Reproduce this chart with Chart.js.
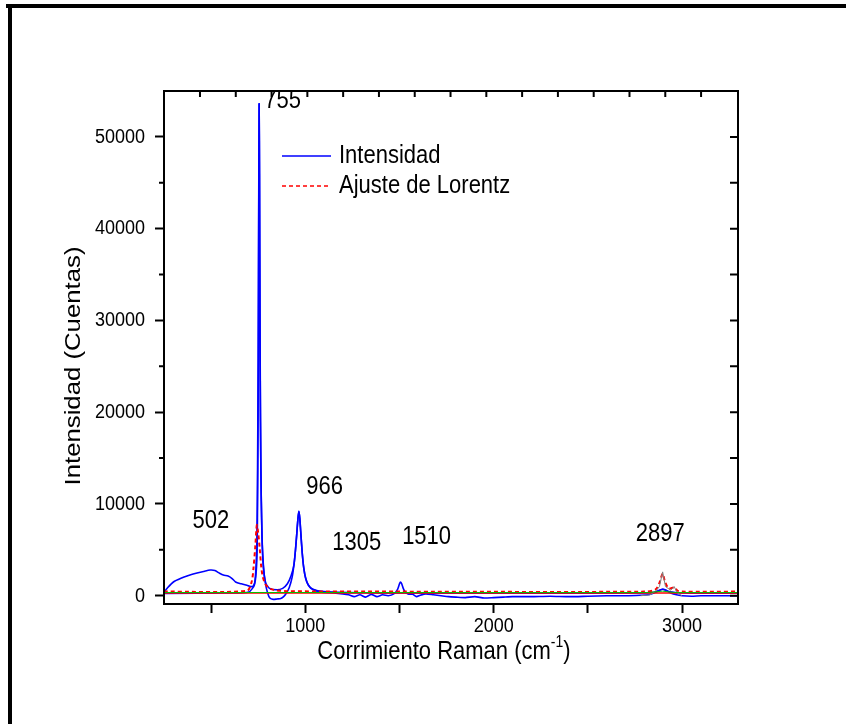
<!DOCTYPE html>
<html><head><meta charset="utf-8">
<script src="https://cdn.jsdelivr.net/npm/chart.js@4/dist/chart.umd.min.js"></script>
<style>html,body{margin:0;padding:0;background:#fff}#wrap{width:846px;height:724px;position:relative}</style>
</head><body><div id="wrap"><canvas id="c" width="846" height="724"></canvas></div>
<script>
// ---- Data ----
const rawShift  = [250,270,300,340,380,420,460,495,520,545,565,590,610,630,660,690,710,725,735,742,745,748,751,753,755,757,759,762,766,771,778,788,800,812,830,850,870,885,900,915,930,940,948,955,961,966,971,977,984,992,1002,1015,1030,1050,1070,1100,1150,1200,1230,1260,1290,1320,1350,1380,1410,1440,1470,1490,1500,1505,1512,1520,1530,1545,1570,1590,1610,1640,1680,1720,1760,1800,1850,1900,1950,2000,2050,2100,2200,2300,2400,2500,2600,2700,2780,2820,2850,2880,2897,2915,2940,2970,3000,3050,3100,3200,3300];
const rawCounts = [400,900,1500,1900,2200,2450,2650,2800,2750,2450,2250,2150,1900,1500,1300,1150,1000,1100,1700,3500,6000,14000,26000,42000,53600,46000,32000,19000,11000,6000,3200,1400,300,-250,-400,-350,-300,-100,300,900,2000,3400,5000,6800,8400,9200,8400,6600,4600,3000,1900,1200,800,600,450,350,300,200,100,-100,100,-150,150,-100,100,0,200,700,1300,1500,1300,800,400,200,150,-100,50,200,100,0,-100,-150,-200,-100,-250,-200,-150,-100,-100,-50,-100,-50,0,0,50,100,300,600,700,600,300,100,0,-50,0,0,0];

const sumShift  = [250,600,700,730,742,746,750,753,755,757,760,764,770,778,790,810,850,880,905,925,940,948,955,961,966,971,977,984,992,1002,1015,1040,1100,1300,1500,2000,2800,2860,2897,2930,3000,3300];
const sumCounts = [250,300,400,1200,5000,12000,26000,44000,53600,46000,28000,14000,6500,3000,1400,800,650,800,1300,2200,3400,5000,6800,8400,9200,8400,6600,4600,3000,1900,1200,700,450,320,300,280,300,400,700,450,300,280];

const fitShift  = [250,690,715,725,735,743,750,758,766,775,790,805,830,900,1500,2800,2860,2880,2897,2910,2930,2960,2975,3000,3300];
const fitCounts = [450,550,1500,3000,5500,7700,6800,5200,3200,2000,1200,900,650,500,450,450,700,1400,2400,1500,800,900,550,450,450];

const baseShift  = [250,3300];
const baseCounts = [300,300];

const greenShift  = [250,2820,2897,2960,3300];
const greenCounts = [350,350,500,350,350];

const greyShift  = [2780,2830,2860,2880,2897,2912,2940,2958,2975,3000];
const greyCounts = [0,100,500,1000,2600,1000,600,1000,300,0];

const xTickValues = [500,1000,1500,2000,2500,3000];
const xLabelled   = [1000,2000,3000];
const yTickValues = [0,10000,20000,30000,40000,50000];
const yMinorValues = [5000,15000,25000,35000,45000];
const topTickValues = [441,631,821,1011,1201,1391,1581,1771,1961,2151,2341,2531,2721,2911,3101];
const rightTickValues = [0,5000,10000,15000,20000,25000,30000,35000,40000,45000,50000];

const peakLabels = [
  {text:'502',  x:499,  y:8200},
  {text:'755',  x:880,  y:53900},
  {text:'966',  x:1103, y:11900},
  {text:'1305', x:1273, y:5800},
  {text:'1510', x:1644, y:6400},
  {text:'2897', x:2884, y:6700}
];

const seriesNames = {raw:'Intensidad', fit:'Ajuste de Lorentz'};
const legendOrder = [seriesNames.raw, seriesNames.fit];
const yTitle = 'Intensidad (Cuentas)';
const xTitleMain = 'Corrimiento Raman (cm';
const xTitleSup = '-1';
const xTitleEnd = ')';

const pts = (xs, ys) => xs.map((x,i)=>({x:x, y:ys[i]}));
const FONT = '"Liberation Sans", Arial, sans-serif';
const STRETCH = 1.17;

function txt(ctx, s, x, y, size, align){
  ctx.save();
  ctx.font = size + 'px ' + FONT;
  ctx.textAlign = align;
  ctx.textBaseline = 'middle';
  ctx.translate(x, y);
  ctx.scale(1, STRETCH);
  ctx.fillText(s, 0, 0);
  ctx.restore();
}

const framePlugin = {
  id:'frame',
  beforeDraw(chart){
    const ctx = chart.ctx;
    ctx.save();
    ctx.fillStyle = '#fff';
    ctx.fillRect(0,0,chart.width,chart.height);
    ctx.fillStyle = '#000';
    ctx.fillRect(6,4,chart.width-6,4);
    ctx.fillRect(8,4,4,chart.height-4);
    ctx.restore();
  },
  afterDraw(chart){
    const ctx = chart.ctx, a = chart.chartArea;
    const xs = chart.scales.x, ys = chart.scales.y;
    ctx.save();
    ctx.strokeStyle = '#000';
    ctx.lineWidth = 2;
    ctx.strokeRect(a.left, a.top, a.right-a.left, a.bottom-a.top);
    ctx.beginPath();
    yMinorValues.forEach(v=>{const p=ys.getPixelForValue(v); ctx.moveTo(a.left-5,p); ctx.lineTo(a.left,p);});
    topTickValues.forEach(v=>{const p=xs.getPixelForValue(v); ctx.moveTo(p,a.top); ctx.lineTo(p,a.top+6);});
    rightTickValues.forEach(v=>{const p=ys.getPixelForValue(v); ctx.moveTo(a.right,p); ctx.lineTo(a.right-8,p);});
    ctx.stroke();

    ctx.fillStyle = '#000';
    // tick labels
    yTickValues.forEach(v=>txt(ctx, String(v), a.left-19, ys.getPixelForValue(v), 18, 'right'));
    xLabelled.forEach(v=>txt(ctx, String(v), xs.getPixelForValue(v), a.bottom+22, 18, 'center'));

    // peak labels
    peakLabels.forEach(l=>txt(ctx, l.text, xs.getPixelForValue(l.x), ys.getPixelForValue(l.y), 22, 'center'));

    // legend
    let ly = 156;
    legendOrder.forEach(name=>{
      const d = chart.data.datasets.find(ds=>ds.label===name);
      ctx.beginPath();
      ctx.strokeStyle = d.borderColor;
      ctx.lineWidth = 1.5;
      ctx.setLineDash(d.borderDash || []);
      ctx.moveTo(282, ly); ctx.lineTo(331, ly);
      ctx.stroke();
      ctx.setLineDash([]);
      ctx.fillStyle = '#000';
      txt(ctx, d.label, 339, ly, 22, 'left');
      ly += 30;
    });

    // y axis title (rotated)
    ctx.save();
    ctx.translate(74, 366);
    ctx.rotate(-Math.PI/2);
    ctx.scale(STRETCH, 1);
    ctx.font = '22px ' + FONT;
    ctx.textAlign = 'center';
    ctx.textBaseline = 'middle';
    ctx.fillText(yTitle, 0, 0);
    ctx.restore();

    // x axis title with superscript
    ctx.font = '22px ' + FONT;
    const w1 = ctx.measureText(xTitleMain).width;
    const w3 = ctx.measureText(xTitleEnd).width;
    ctx.font = '14px ' + FONT;
    const w2 = ctx.measureText(xTitleSup).width;
    const tx = 444 - (w1+w2+w3)/2;
    txt(ctx, xTitleMain, tx, 652, 22, 'left');
    txt(ctx, xTitleSup, tx+w1, 642, 14, 'left');
    txt(ctx, xTitleEnd, tx+w1+w2, 652, 22, 'left');
    ctx.restore();
  }
};

new Chart(document.getElementById('c'), {
  type:'line',
  data:{datasets:[
    {label:'_green', data:pts(greenShift,greenCounts), borderColor:'#00c000', borderWidth:1, pointRadius:0, tension:0},
    {label:'_grey', data:pts(greyShift,greyCounts), borderColor:'#808080', borderWidth:1, pointRadius:0, tension:0},
    {label:'_base', data:pts(baseShift,baseCounts), borderColor:'#ff0000', borderWidth:1.5, pointRadius:0, tension:0},
    {label:seriesNames.fit, data:pts(fitShift,fitCounts), borderColor:'#ff0000', borderWidth:2, borderDash:[4,3], pointRadius:0, tension:0.3},
    {label:'_sum', data:pts(sumShift,sumCounts), borderColor:'#0000ff', borderWidth:1.6, pointRadius:0, tension:0.2},
    {label:seriesNames.raw, data:pts(rawShift,rawCounts), borderColor:'#0000ff', borderWidth:1.6, pointRadius:0, tension:0.2}
  ]},
  options:{
    responsive:false, animation:false, devicePixelRatio:1,
    layout:{padding:{top:91, right:108, left:0, bottom:0}},
    plugins:{legend:{display:false}, tooltip:{enabled:false}},
    scales:{
      x:{type:'linear', min:250, max:3297,
        afterBuildTicks:s=>{s.ticks = xTickValues.map(v=>({value:v}));},
        afterFit:s=>{s.height = 120;},
        border:{display:true, color:'#000', width:2},
        grid:{drawOnChartArea:false, drawTicks:true, tickLength:9, tickColor:'#000', tickWidth:2},
        ticks:{display:false}
      },
      y:{type:'linear', min:-900, max:55000,
        afterBuildTicks:s=>{s.ticks = yTickValues.map(v=>({value:v}));},
        afterFit:s=>{s.width = 164;},
        border:{display:true, color:'#000', width:2},
        grid:{drawOnChartArea:false, drawTicks:true, tickLength:9, tickColor:'#000', tickWidth:2},
        ticks:{display:false}
      }
    }
  },
  plugins:[framePlugin]
});
</script>
</body></html>
